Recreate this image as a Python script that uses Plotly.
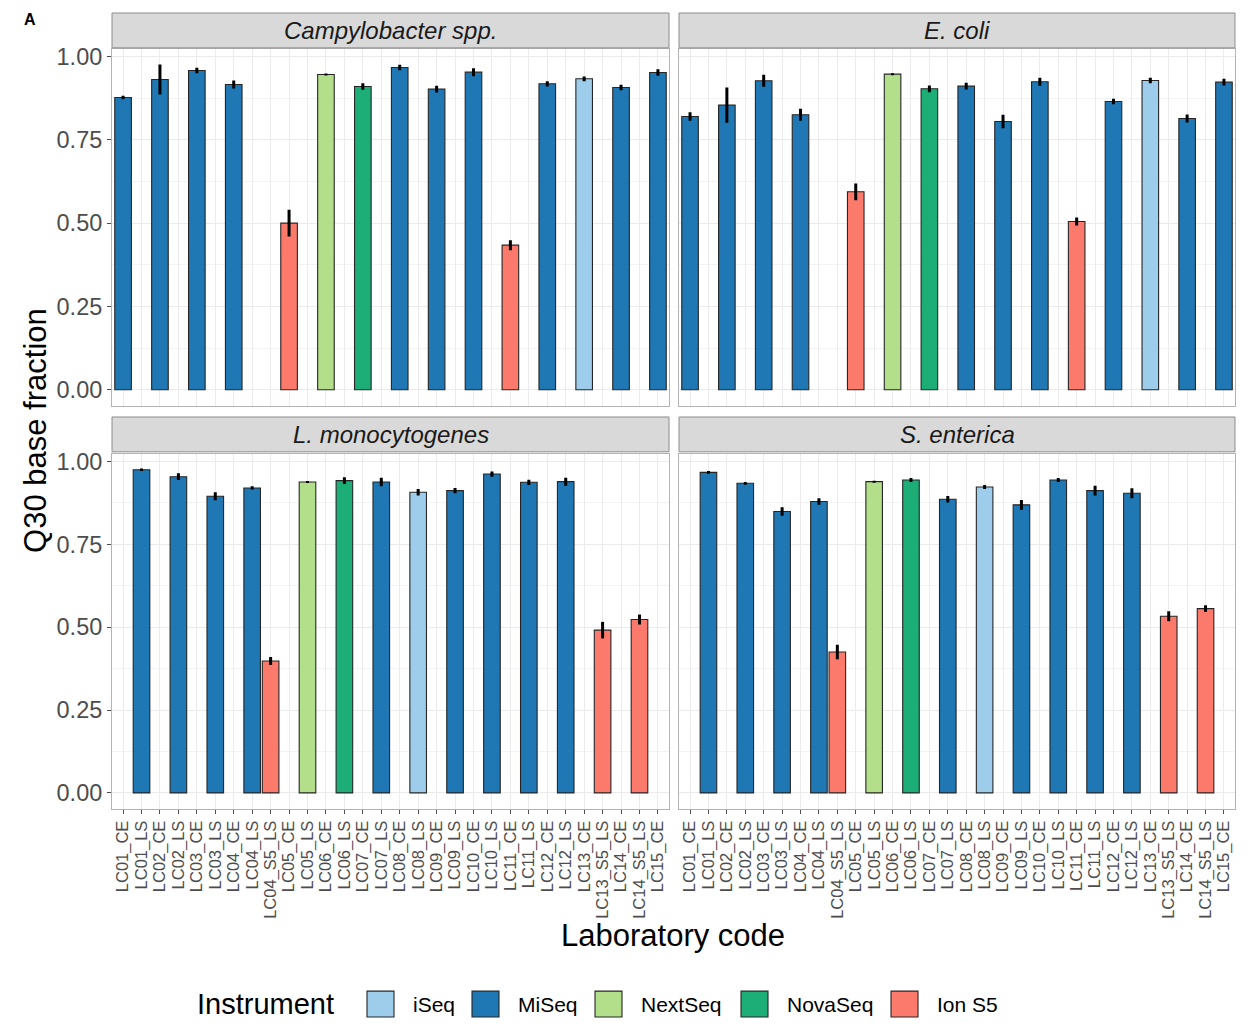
import plotly.graph_objects as go

# ---------------- data ----------------
categories = ["LC01_CE", "LC01_LS", "LC02_CE", "LC02_LS", "LC03_CE", "LC03_LS",
              "LC04_CE", "LC04_LS", "LC04_S5_LS", "LC05_CE", "LC05_LS", "LC06_CE",
              "LC06_LS", "LC07_CE", "LC07_LS", "LC08_CE", "LC08_LS", "LC09_CE",
              "LC09_LS", "LC10_CE", "LC10_LS", "LC11_CE", "LC11_LS", "LC12_CE",
              "LC12_LS", "LC13_CE", "LC13_S5_LS", "LC14_CE", "LC14_S5_LS", "LC15_CE"]

instruments = ["iSeq", "MiSeq", "NextSeq", "NovaSeq", "Ion S5"]
inst_colors = ["#9dcdeb", "#1f77b4", "#b3de8a", "#1dad76", "#fb7a6b"]

ce_labs = ["LC01_CE", "LC02_CE", "LC03_CE", "LC04_CE", "LC05_CE", "LC06_CE", "LC07_CE",
           "LC08_CE", "LC09_CE", "LC10_CE", "LC11_CE", "LC12_CE", "LC13_CE", "LC14_CE",
           "LC15_CE"]
ce_inst = ["MiSeq", "MiSeq", "MiSeq", "MiSeq", "Ion S5", "NextSeq", "NovaSeq",
           "MiSeq", "MiSeq", "MiSeq", "Ion S5", "MiSeq", "iSeq", "MiSeq", "MiSeq"]

ls_labs = ["LC01_LS", "LC02_LS", "LC03_LS", "LC04_LS", "LC04_S5_LS", "LC05_LS", "LC06_LS",
           "LC07_LS", "LC08_LS", "LC09_LS", "LC10_LS", "LC11_LS", "LC12_LS", "LC13_S5_LS",
           "LC14_S5_LS"]
ls_inst = ["MiSeq", "MiSeq", "MiSeq", "MiSeq", "Ion S5", "NextSeq", "NovaSeq",
           "MiSeq", "iSeq", "MiSeq", "MiSeq", "MiSeq", "MiSeq", "Ion S5", "Ion S5"]

campy_vals = [0.877, 0.931, 0.958, 0.916, 0.500, 0.946, 0.910, 0.967, 0.902, 0.953,
              0.434, 0.918, 0.933, 0.907, 0.952]
campy_err = [0.005, 0.045, 0.008, 0.012, 0.040, 0.003, 0.010, 0.008, 0.010, 0.012,
             0.015, 0.008, 0.007, 0.008, 0.010]

ecoli_vals = [0.820, 0.854, 0.927, 0.825, 0.594, 0.947, 0.903, 0.911, 0.805, 0.924,
              0.505, 0.865, 0.928, 0.814, 0.923]
ecoli_err = [0.013, 0.053, 0.018, 0.018, 0.025, 0.003, 0.010, 0.010, 0.020, 0.012,
             0.012, 0.008, 0.008, 0.012, 0.010]

listeria_vals = [0.975, 0.954, 0.895, 0.920, 0.398, 0.938, 0.942, 0.938, 0.907, 0.912,
                 0.962, 0.937, 0.939, 0.491, 0.523]
listeria_err = [0.004, 0.010, 0.012, 0.005, 0.012, 0.003, 0.010, 0.013, 0.010, 0.008,
                0.008, 0.008, 0.012, 0.025, 0.015]

salmonella_vals = [0.967, 0.934, 0.849, 0.879, 0.425, 0.939, 0.944, 0.886, 0.923, 0.869,
                   0.944, 0.912, 0.904, 0.533, 0.556]
salmonella_err = [0.004, 0.004, 0.013, 0.010, 0.022, 0.003, 0.006, 0.010, 0.006, 0.015,
                  0.006, 0.015, 0.015, 0.015, 0.010]

panel_titles = ["Campylobacter spp.", "E. coli", "L. monocytogenes", "S. enterica"]
y_ticks = [0.0, 0.25, 0.5, 0.75, 1.0]
y_tick_text = ["0.00", "0.25", "0.50", "0.75", "1.00"]

# ---------------- layout geometry ----------------
OFF = 8                      # default page body margin
W, H = 1248 - 2 * OFF, 1027 - 2 * OFF
FONT = "Liberation Sans, Arial, sans-serif"

def px_x(p):
    return (p - OFF) / W

def px_y(p):
    return 1 - (p - OFF) / H

col_dom = [(px_x(112), px_x(669)), (px_x(679), px_x(1235))]
row_dom = [(px_y(403), px_y(44)), (px_y(808), px_y(451))]
strip_px = [(8, 43), (414, 449)]

panels = [
    (ce_labs, campy_vals, campy_err, ce_inst),
    (ce_labs, ecoli_vals, ecoli_err, ce_inst),
    (ls_labs, listeria_vals, listeria_err, ls_inst),
    (ls_labs, salmonella_vals, salmonella_err, ls_inst),
]

fig = go.Figure()
for pi, (labs, vals, errs, insts) in enumerate(panels):
    ax = "" if pi == 0 else str(pi + 1)
    for ii, inst in enumerate(instruments):
        idx = [k for k, v in enumerate(insts) if v == inst]
        if not idx:
            continue
        fig.add_trace(go.Bar(
            x=[labs[k] for k in idx],
            y=[vals[k] for k in idx],
            error_y=dict(type="data", array=[errs[k] for k in idx], color="black",
                         thickness=3, width=0),
            marker=dict(color=inst_colors[ii], line=dict(color="#262626", width=1.1)),
            width=0.9,
            name=inst,
            showlegend=False,
            xaxis="x" + ax, yaxis="y" + ax,
        ))

layout = dict(
    width=W, height=H,
    margin=dict(l=0, r=0, t=0, b=0),
    paper_bgcolor="white", plot_bgcolor="white",
    barmode="overlay",
    font=dict(family=FONT, color="#4d4d4d"),
    showlegend=False,
)

for pi in range(4):
    r, c = divmod(pi, 2)
    ax = "" if pi == 0 else str(pi + 1)
    bottom = r == 1
    left = c == 0
    layout["xaxis" + ax] = dict(
        domain=list(col_dom[c]), anchor="y" + ax,
        type="category", categoryorder="array", categoryarray=categories,
        range=[-0.6, 29.6], tickmode="linear", tick0=0, dtick=1,
        showticklabels=bottom, tickangle=-90,
        tickfont=dict(size=16.5, color="#4d4d4d", family=FONT),
        ticks="outside" if bottom else "", ticklen=4, tickcolor="#4d4d4d",
        showgrid=True, gridcolor="#ebebeb", gridwidth=1,
        showline=True, linecolor="#b3b3b3", linewidth=1, mirror=True,
        zeroline=False, fixedrange=True,
    )
    layout["yaxis" + ax] = dict(
        domain=list(row_dom[r]), anchor="x" + ax,
        range=[-0.0487, 1.023],
        tickmode="array", tickvals=y_ticks, ticktext=y_tick_text,
        showticklabels=left,
        tickfont=dict(size=23.5, color="#4d4d4d", family=FONT),
        ticks="outside" if left else "", ticklen=4, tickcolor="#4d4d4d",
        showgrid=True, gridcolor="#ebebeb", gridwidth=1,
        minor=dict(tickmode="linear", tick0=0.125, dtick=0.25, showgrid=True,
                   gridcolor="#f3f3f3", gridwidth=0.8),
        showline=True, linecolor="#b3b3b3", linewidth=1, mirror=True,
        zeroline=False, fixedrange=True,
    )

fig.update_layout(**layout)

annotations = []
shapes = []
# facet strips
for pi, title in enumerate(panel_titles):
    r, c = divmod(pi, 2)
    y0p, y1p = strip_px[r]
    shapes.append(dict(type="rect", xref="paper", yref="paper",
                       x0=col_dom[c][0], x1=col_dom[c][1],
                       y0=px_y(y1p), y1=px_y(y0p),
                       fillcolor="#d9d9d9", line=dict(color="#8c8c8c", width=1)))
    annotations.append(dict(text="<i>" + title + "</i>", xref="paper", yref="paper",
                            x=(col_dom[c][0] + col_dom[c][1]) / 2,
                            y=px_y((y0p + y1p) / 2), xanchor="center", yanchor="middle",
                            showarrow=False,
                            font=dict(size=24, color="#1a1a1a", family=FONT)))

# axis titles and panel tag
annotations.append(dict(text="Q30 base fraction", xref="paper", yref="paper",
                        x=px_x(36), y=px_y(428), textangle=-90, showarrow=False,
                        xanchor="center", yanchor="middle",
                        font=dict(size=31, color="black", family=FONT)))
annotations.append(dict(text="Laboratory code", xref="paper", yref="paper",
                        x=px_x(673), y=px_y(935), showarrow=False,
                        xanchor="center", yanchor="middle",
                        font=dict(size=31, color="black", family=FONT)))
annotations.append(dict(text="<b>A</b>", xref="paper", yref="paper",
                        x=px_x(30), y=px_y(15), showarrow=False,
                        xanchor="center", yanchor="middle",
                        font=dict(size=16, color="black", family=FONT)))

# legend (drawn as keys + labels, ggplot style)
legend_y = 1004
annotations.append(dict(text="Instrument", xref="paper", yref="paper",
                        x=px_x(195), y=px_y(legend_y), showarrow=False,
                        xanchor="left", yanchor="middle",
                        font=dict(size=29, color="black", family=FONT)))
key_left = [367, 472, 595, 741, 891]
for ii, inst in enumerate(instruments):
    kx = key_left[ii]
    shapes.append(dict(type="rect", xref="paper", yref="paper",
                       x0=px_x(kx), x1=px_x(kx + 27),
                       y0=px_y(legend_y + 13), y1=px_y(legend_y - 13),
                       fillcolor=inst_colors[ii], line=dict(color="#262626", width=1.1)))
    annotations.append(dict(text=inst, xref="paper", yref="paper",
                            x=px_x(kx + 44), y=px_y(legend_y), showarrow=False,
                            xanchor="left", yanchor="middle",
                            font=dict(size=21, color="black", family=FONT)))

fig.update_layout(annotations=annotations, shapes=shapes)

fig.write_html("out.html")
